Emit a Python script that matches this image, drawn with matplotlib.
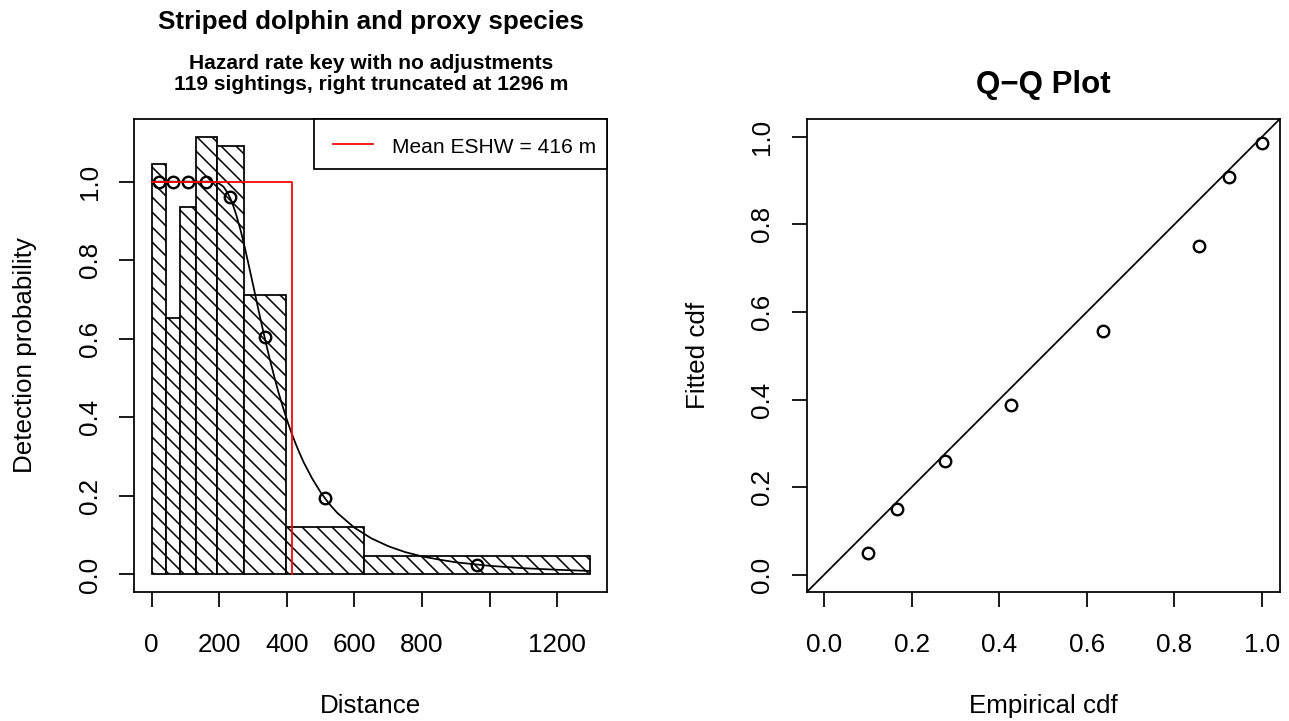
import matplotlib
matplotlib.use("Agg")
import matplotlib.pyplot as plt
from matplotlib.patches import Rectangle
from matplotlib.lines import Line2D

plt.rcParams['font.family'] = ['Liberation Sans', 'DejaVu Sans']
plt.rcParams['hatch.linewidth'] = 1.25

# ---------------- data ----------------
bin_breaks = [0, 41, 84, 131, 192, 273, 397, 629, 1296]
bar_heights = [1.046, 0.654, 0.935, 1.115, 1.090, 0.711, 0.121, 0.047]
point_distances = [20.5, 62.5, 107.5, 161.5, 232.5, 335, 513, 962.5]
point_probs = [1.0, 1.0, 1.0, 1.0, 0.96, 0.604, 0.195, 0.025]
curve_distances = [0, 50, 100, 150, 175, 187.5, 200, 212.5, 225, 237.5, 250, 262.5,
                   275, 287.5, 300, 312.5, 325, 337.5, 350, 362.5, 375, 387.5, 400,
                   412.5, 425, 437.5, 450, 475, 500, 525, 550, 600, 650, 700, 750,
                   800, 850, 900, 1000, 1100, 1200, 1296]
curve_probs = [1.0, 1.0, 1.0, 1.0, 1.0, 0.999, 0.995, 0.987, 0.971, 0.948, 0.916,
               0.878, 0.834, 0.786, 0.737, 0.687, 0.638, 0.591, 0.546, 0.504, 0.464,
               0.428, 0.394, 0.363, 0.335, 0.309, 0.285, 0.244, 0.209, 0.180, 0.156,
               0.119, 0.092, 0.072, 0.057, 0.046, 0.038, 0.031, 0.022, 0.016, 0.012,
               0.009]
eshw = 416
truncation = 1296
n_sightings = 119

x_ticks_left = [0, 200, 400, 600, 800, 1000, 1200]
x_tick_labels_left = ['0', '200', '400', '600', '800', '', '1200']
unit_ticks = [0.0, 0.2, 0.4, 0.6, 0.8, 1.0]
unit_tick_labels = ['0.0', '0.2', '0.4', '0.6', '0.8', '1.0']

empirical_cdf = [0.100, 0.167, 0.276, 0.428, 0.638, 0.857, 0.925, 1.0]
fitted_cdf = [0.050, 0.150, 0.260, 0.388, 0.556, 0.750, 0.909, 0.987]

title_main = "Striped dolphin and proxy species"
subtitle_1 = "Hazard rate key with no adjustments"
subtitle_2 = f"{n_sightings} sightings, right truncated at {truncation} m"
legend_label = f"Mean ESHW = {eshw} m"

# ---------------- layout ----------------
W, H = 1289, 721
DPI = 90
BASE = 20.8
SMALL = 16.8
LW = 1.4
MS = 9.2
MEW = 1.9

def fx(px):
    return px / W

def fy(py):
    return 1 - py / H

fig = plt.figure(figsize=(W / DPI, H / DPI), dpi=DPI)
fig.patch.set_facecolor('white')

ax1 = fig.add_axes([fx(134.2), fy(592.0), 473 / W, 473 / H])
ax2 = fig.add_axes([fx(806.5), fy(592.3), 473 / W, 473 / H])

for ax in (ax1, ax2):
    for s in ax.spines.values():
        s.set_linewidth(LW)
        s.set_color('black')
    ax.tick_params(direction='out', length=12, width=LW, labelsize=BASE,
                   colors='black')
    ax.tick_params(axis='x', pad=20.5)
    ax.tick_params(axis='y', pad=14.0)

# ---------------- left panel ----------------
lefts = bin_breaks[:-1]
widths = [b - a for a, b in zip(bin_breaks[:-1], bin_breaks[1:])]
ax1.bar(lefts, bar_heights, width=widths, align='edge', facecolor='white',
        edgecolor='black', hatch='\\\\', linewidth=LW, zorder=2)
ax1.plot(curve_distances, curve_probs, color='black', lw=LW, zorder=3)
ax1.plot(point_distances, point_probs, 'o', mfc='none', mec='black', ms=MS,
         mew=MEW, zorder=4)
ax1.plot([0, eshw, eshw], [1, 1, 0], color='red', lw=LW, zorder=5)

ymax = max(bar_heights)
ax1.set_xlim(-0.04 * truncation, 1.04 * truncation)
ax1.set_ylim(-0.04 * ymax, 1.04 * ymax)
ax1.set_xticks(x_ticks_left)
ax1.set_xticklabels(x_tick_labels_left)
ax1.set_yticks(unit_ticks)
ax1.set_yticklabels(unit_tick_labels, rotation=90, va='center')

# legend (R-style box in top-right corner)
lx0 = (314 - 134.2) / 473
ly0 = (592.0 - 169.3) / 473
ax1.add_patch(Rectangle((lx0, ly0), 1 - lx0, 1 - ly0, transform=ax1.transAxes,
                        facecolor='white', edgecolor='black', lw=LW, zorder=6,
                        clip_on=False))
ly = (592.0 - 144.3) / 473
ax1.add_line(Line2D([(332.7 - 134.2) / 473, (372.7 - 134.2) / 473], [ly, ly],
                    transform=ax1.transAxes, color='red', lw=LW, zorder=7))
ax1.text((391.7 - 134.2) / 473, (592.0 - 152.7) / 473, legend_label,
         transform=ax1.transAxes, fontsize=SMALL, ha='left', va='baseline',
         zorder=7)

# ---------------- right panel ----------------
ax2.axline((0, 0), slope=1, color='black', lw=LW, zorder=2)
ax2.plot(empirical_cdf, fitted_cdf, 'o', mfc='none', mec='black', ms=MS,
         mew=MEW, zorder=3)
ax2.set_xlim(-0.04, 1.04)
ax2.set_ylim(-0.04, 1.04)
ax2.set_xticks(unit_ticks)
ax2.set_xticklabels(unit_tick_labels)
ax2.set_yticks(unit_ticks)
ax2.set_yticklabels(unit_tick_labels, rotation=90, va='center')

# ---------------- texts ----------------
fig.text(fx(370.7), fy(29.5), title_main, ha='center', va='baseline',
         fontsize=BASE, fontweight='bold')
fig.text(fx(370.7), fy(69.3), subtitle_1, ha='center', va='baseline',
         fontsize=SMALL, fontweight='bold')
fig.text(fx(370.7), fy(90.0), subtitle_2, ha='center', va='baseline',
         fontsize=SMALL, fontweight='bold')
fig.text(fx(1043), fy(93.3), "Q\u2212Q Plot", ha='center', va='baseline',
         fontsize=BASE * 1.2, fontweight='bold')

fig.text(fx(370.7), fy(713.0), "Distance", ha='center', va='baseline',
         fontsize=BASE)
fig.text(fx(1043), fy(713.0), "Empirical cdf", ha='center', va='baseline',
         fontsize=BASE)
fig.text(fx(32.5), fy(355.3), "Detection probability", rotation=90,
         rotation_mode='anchor', ha='center', va='baseline', fontsize=BASE)
fig.text(fx(704.8), fy(355.6), "Fitted cdf", rotation=90,
         rotation_mode='anchor', ha='center', va='baseline', fontsize=BASE)

fig.savefig("out.png", dpi=DPI, facecolor='white')
